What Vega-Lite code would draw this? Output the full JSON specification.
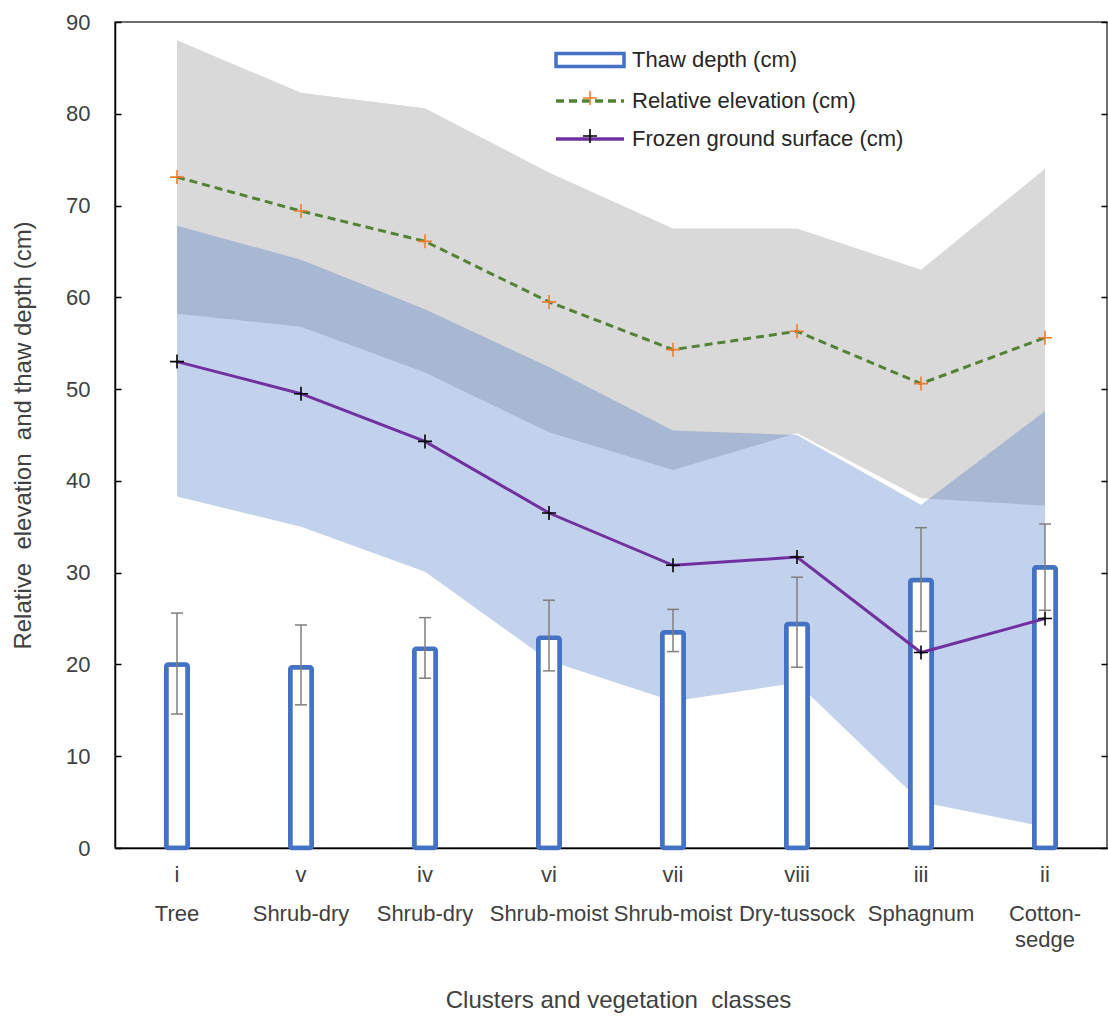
{
  "$schema": "https://vega.github.io/schema/vega-lite/v6.json",
  "width": 992,
  "height": 826,
  "autosize": {"type": "none"},
  "padding": {"left": 115, "top": 22, "right": 1, "bottom": 171},
  "background": "white",
  "config": {
    "font": "Liberation Sans",
    "view": {"stroke": "#404040", "strokeWidth": 1.5},
    "axis": {"grid": false, "labelColor": "#404040", "titleColor": "#404040", "titleFontWeight": "normal", "labelFont": "Liberation Sans", "titleFont": "Liberation Sans"}
  },
  "data": {
    "values": [
      {"cl": "i|\u200b|\u200b|Tree", "thaw": 20.0, "thawLo": 14.6, "thawHi": 25.6, "elev": 73.1, "elevLo": 58.2, "elevHi": 88.0, "frozen": 53.0, "frozenLo": 38.3, "frozenHi": 67.8},
      {"cl": "v|\u200b|\u200b|Shrub-dry", "thaw": 19.7, "thawLo": 15.6, "thawHi": 24.3, "elev": 69.4, "elevLo": 56.8, "elevHi": 82.3, "frozen": 49.5, "frozenLo": 35.0, "frozenHi": 64.1},
      {"cl": "iv|\u200b|\u200b|Shrub-dry", "thaw": 21.7, "thawLo": 18.5, "thawHi": 25.1, "elev": 66.1, "elevLo": 51.8, "elevHi": 80.6, "frozen": 44.3, "frozenLo": 30.1, "frozenHi": 58.7},
      {"cl": "vi|\u200b|\u200b|Shrub-moist", "thaw": 22.9, "thawLo": 19.3, "thawHi": 27.0, "elev": 59.5, "elevLo": 45.3, "elevHi": 73.6, "frozen": 36.5, "frozenLo": 20.4, "frozenHi": 52.4},
      {"cl": "vii|\u200b|\u200b|Shrub-moist", "thaw": 23.5, "thawLo": 21.4, "thawHi": 26.0, "elev": 54.3, "elevLo": 41.2, "elevHi": 67.5, "frozen": 30.8, "frozenLo": 16.0, "frozenHi": 45.5},
      {"cl": "viii|\u200b|\u200b|Dry-tussock", "thaw": 24.4, "thawLo": 19.7, "thawHi": 29.5, "elev": 56.3, "elevLo": 45.2, "elevHi": 67.5, "frozen": 31.7, "frozenLo": 18.0, "frozenHi": 45.0},
      {"cl": "iii|\u200b|\u200b|Sphagnum", "thaw": 29.2, "thawLo": 23.6, "thawHi": 34.9, "elev": 50.6, "elevLo": 38.1, "elevHi": 63.0, "frozen": 21.3, "frozenLo": 5.0, "frozenHi": 37.4},
      {"cl": "ii|\u200b|\u200b|Cotton-|\u200b|sedge", "thaw": 30.6, "thawLo": 25.9, "thawHi": 35.3, "elev": 55.6, "elevLo": 37.3, "elevHi": 74.0, "frozen": 25.0, "frozenLo": 2.3, "frozenHi": 47.6}
    ]
  },
  "resolve": {"axis": {"y": "independent"}},
  "layer": [
    {
      "mark": {"type": "area", "color": "#D9D9D9", "opacity": 1},
      "encoding": {
        "x": {"field": "cl", "type": "nominal", "sort": null,
          "scale": {"paddingInner": 0, "paddingOuter": 0},
          "axis": {"title": "Clusters and vegetation\u00a0 classes", "titleFontSize": 24, "titleX": 503, "titleY": 152, "titleBaseline": "middle",
            "labelExpr": "split(datum.value, '|')", "labelAngle": 0, "labelFontSize": 22, "labelLineHeight": 13, "labelBaseline": "top", "labelPadding": 16, "labelLimit": 0,
            "ticks": false, "domainColor": "#000000", "domainWidth": 1.5}},
        "y": {"field": "elevLo", "type": "quantitative",
          "scale": {"domain": [0, 90], "nice": false},
          "axis": {"title": "Relative\u00a0 elevation\u00a0 and thaw depth (cm)", "titleFontSize": 24, "titleX": -92, "titleY": 413, "titleAngle": 270, "titleBaseline": "middle", "titleAlign": "center",
            "values": [0, 10, 20, 30, 40, 50, 60, 70, 80, 90], "labelFontSize": 22, "labelPadding": 31, "tickSize": -6, "tickColor": "#000000", "tickWidth": 1.5, "domainColor": "#000000", "domainWidth": 1.5}},
        "y2": {"field": "elevHi"}
      }
    },
    {
      "mark": {"type": "area", "color": "#4472C4", "opacity": 0.32},
      "encoding": {
        "x": {"field": "cl", "type": "nominal", "sort": null},
        "y": {"field": "frozenLo", "type": "quantitative",
          "axis": {"orient": "right", "title": null, "labels": false, "values": [0, 10, 20, 30, 40, 50, 60, 70, 80, 90], "tickSize": -6, "tickColor": "#000000", "tickWidth": 1.5, "domain": false}},
        "y2": {"field": "frozenHi"}
      }
    },
    {
      "mark": {"type": "bar", "fill": "white", "stroke": "#4472C4", "strokeWidth": 4.5, "size": 21.5, "cornerRadius": 2},
      "encoding": {
        "x": {"field": "cl", "type": "nominal", "sort": null},
        "y": {"field": "thaw", "type": "quantitative", "axis": null}
      }
    },
    {
      "mark": {"type": "rule", "color": "#7F7F7F", "strokeWidth": 1.5},
      "encoding": {
        "x": {"field": "cl", "type": "nominal", "sort": null},
        "y": {"field": "thawLo", "type": "quantitative", "axis": null},
        "y2": {"field": "thawHi"}
      }
    },
    {
      "mark": {"type": "tick", "color": "#7F7F7F", "size": 12, "thickness": 1.5, "opacity": 1},
      "encoding": {
        "x": {"field": "cl", "type": "nominal", "sort": null},
        "y": {"field": "thawLo", "type": "quantitative", "axis": null}
      }
    },
    {
      "mark": {"type": "tick", "color": "#7F7F7F", "size": 12, "thickness": 1.5, "opacity": 1},
      "encoding": {
        "x": {"field": "cl", "type": "nominal", "sort": null},
        "y": {"field": "thawHi", "type": "quantitative", "axis": null}
      }
    },
    {
      "mark": {"type": "line", "color": "#548235", "strokeWidth": 3, "strokeDash": [8, 5]},
      "encoding": {
        "x": {"field": "cl", "type": "nominal", "sort": null},
        "y": {"field": "elev", "type": "quantitative", "axis": null}
      }
    },
    {
      "mark": {"type": "line", "color": "#7030A0", "strokeWidth": 3},
      "encoding": {
        "x": {"field": "cl", "type": "nominal", "sort": null},
        "y": {"field": "frozen", "type": "quantitative", "axis": null}
      }
    },
    {
      "transform": [{"fold": ["elev", "frozen"], "as": ["series", "sv"]}],
      "mark": {"type": "point", "filled": false, "size": 196, "strokeWidth": 3.5, "opacity": 0},
      "encoding": {
        "x": {"field": "cl", "type": "nominal", "sort": null},
        "y": {"field": "sv", "type": "quantitative", "axis": null},
        "stroke": {"field": "series", "type": "nominal",
          "scale": {"domain": ["thaw", "elev", "frozen"], "range": ["#4472C4", "#548235", "#7030A0"]},
          "legend": {"orient": "none", "legendX": 437, "legendY": 27, "title": null, "symbolSize": 196, "symbolStrokeWidth": 3.5, "symbolOpacity": 1, "symbolOffset": 27, "labelOffset": 31, "labelFontSize": 22, "labelLimit": 0, "labelColor": "#262626", "rowPadding": 16,
            "labelExpr": "datum.value == 'thaw' ? 'Thaw depth (cm)' : datum.value == 'elev' ? 'Relative elevation (cm)' : 'Frozen ground surface (cm)'",
            "encode": {"symbols": {"update": {"opacity": {"value": 1}, "strokeOpacity": {"value": 1}}}}}},
        "shape": {"field": "series", "type": "nominal",
          "scale": {"domain": ["thaw", "elev", "frozen"], "range": ["M-4.857,-0.93H4.857V0.93H-4.857Z", "M-4.857,0H4.857", "M-4.857,0H4.857"]}},
        "strokeDash": {"field": "series", "type": "nominal",
          "scale": {"domain": ["thaw", "elev", "frozen"], "range": [[1, 0], [8, 5], [1, 0]]}}
      }
    },
    {
      "transform": [{"fold": ["elev", "frozen"], "as": ["mk", "mv"]}],
      "mark": {"type": "point", "shape": "M-1,0H1M0,-1V1", "filled": false, "size": 196, "strokeWidth": 1.6, "opacity": 1},
      "encoding": {
        "x": {"field": "cl", "type": "nominal", "sort": null},
        "y": {"field": "mv", "type": "quantitative", "axis": null},
        "color": {"field": "mk", "type": "nominal",
          "scale": {"domain": ["thaw", "elev", "frozen", "none"], "range": ["rgba(0,0,0,0)", "#ED7D31", "#000000", "rgba(0,0,0,0)"]},
          "legend": {"orient": "none", "legendX": 437, "legendY": 27, "title": null, "values": ["thaw", "elev", "frozen"], "symbolType": "M-1,0H1M0,-1V1", "symbolSize": 196, "symbolStrokeWidth": 1.6, "symbolOffset": 27, "labelOffset": 31, "labelFontSize": 22, "labelLimit": 0, "labelOpacity": 0, "rowPadding": 16,
            "labelExpr": "'\u200b'"}}
      }
    }
  ]
}
